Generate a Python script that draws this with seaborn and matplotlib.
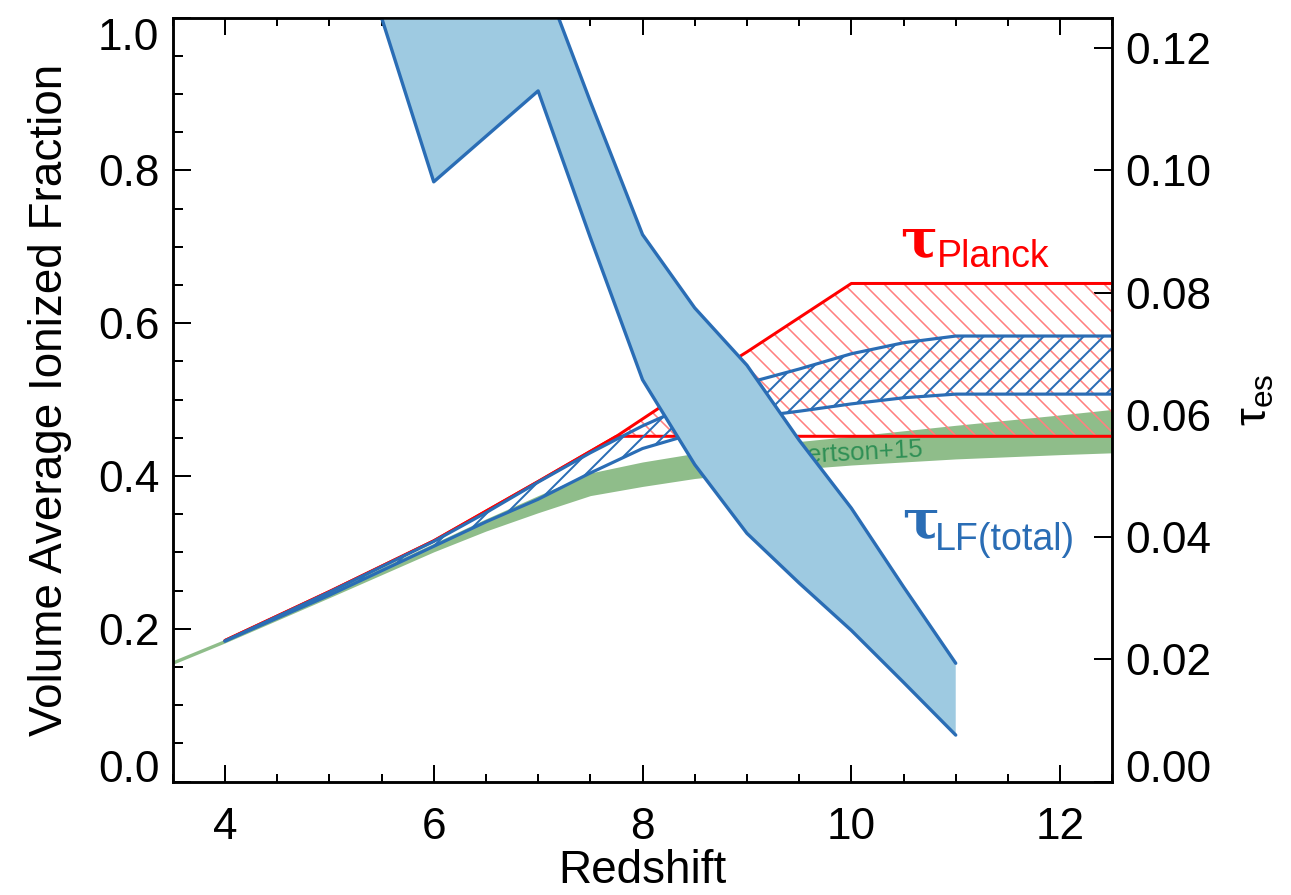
import numpy as np
import pandas as pd
import matplotlib
matplotlib.use("Agg")
import matplotlib.pyplot as plt
import seaborn as sns
from matplotlib.ticker import FixedLocator, MultipleLocator, NullLocator, FormatStrFormatter

# ---------------- data ----------------
# Volume-averaged ionized fraction band (left axis)
xion_z = [5.0, 6.0, 7.0, 7.5, 8.0, 8.5, 9.0, 9.5, 10.0, 10.5, 11.0]
xion_lower = [1.215, 0.785, 0.904, 0.712, 0.526, 0.415, 0.325, 0.260, 0.198, 0.130, 0.061]
xion_upper = [1.800, 1.450, 1.070, 0.890, 0.716, 0.620, 0.545, 0.447, 0.358, 0.255, 0.155]

# tau_LF(total) band (right axis)
tau_lf_z = [4.0, 5.0, 6.0, 6.5, 7.0, 7.5, 8.0, 8.5, 9.0, 9.5, 10.0, 10.5, 11.0, 12.5]
tau_lf_lower = [0.0230, 0.0305, 0.0385, 0.0425, 0.0462, 0.0505, 0.0545, 0.0570, 0.0595,
                0.0606, 0.0618, 0.0628, 0.0634, 0.0634]
tau_lf_upper = [0.0230, 0.0310, 0.0393, 0.0440, 0.0490, 0.0538, 0.0582, 0.0620, 0.0652,
                0.0675, 0.0700, 0.0718, 0.0729, 0.0729]

# tau_Planck band (right axis)
planck_z = [4.0, 5.0, 6.0, 7.0, 7.75, 8.5, 9.0, 10.0, 12.5]
planck_lower = [0.0231, 0.0311, 0.0394, 0.0491, 0.0565, 0.0565, 0.0565, 0.0565, 0.0565]
planck_upper = [0.0231, 0.0311, 0.0394, 0.0491, 0.0565, 0.0650, 0.0703, 0.0815, 0.0815]

# Robertson+15 band (right axis)
rob_z = [3.5, 4.0, 5.0, 6.0, 6.5, 7.0, 7.5, 8.0, 8.5, 9.0, 10.0, 11.0, 12.0, 12.5]
rob_lower = [0.0192, 0.0227, 0.0301, 0.0376, 0.0410, 0.0440, 0.0468, 0.0483, 0.0496,
             0.0505, 0.0518, 0.0528, 0.0535, 0.0538]
rob_upper = [0.0198, 0.0233, 0.0310, 0.0390, 0.0430, 0.0468, 0.0505, 0.0523, 0.0537,
             0.0548, 0.0565, 0.0583, 0.0600, 0.0609]

x_ticks = [4, 6, 8, 10, 12]
y_ticks = [0.0, 0.2, 0.4, 0.6, 0.8, 1.0]
tau_ticks = [0.00, 0.02, 0.04, 0.06, 0.08, 0.10, 0.12]

# ---------------- style ----------------
BLUE_EDGE = "#2a6db5"
BLUE_FILL = "#9ecae1"
RED = "#ff0000"
RED_HATCH = "#ff8080"
GREEN = "#8fbd8a"
GREEN_TEXT = "#2f8f55"

sns.set_theme(style="ticks")
plt.rcParams["font.family"] = ["Liberation Sans", "DejaVu Sans"]
plt.rcParams["mathtext.fontset"] = "custom"
plt.rcParams["mathtext.rm"] = "Liberation Sans"
plt.rcParams["mathtext.it"] = "Liberation Sans"
plt.rcParams["mathtext.default"] = "regular"
for k in ["axes.edgecolor", "xtick.color", "ytick.color", "text.color", "axes.labelcolor"]:
    plt.rcParams[k] = "black"

DPI = 120
fig = plt.figure(figsize=(1291 / DPI, 895 / DPI), dpi=DPI)
fig.patch.set_facecolor("white")
ax = fig.add_axes([0.1338, 0.1266, 0.7278, 0.8538])
ax2 = ax.twinx()
ax.set_zorder(ax2.get_zorder() + 1)
ax.patch.set_visible(False)

# ---- tau bands on right axis ----
ax2.fill_between(rob_z, rob_lower, rob_upper, color=GREEN, lw=0, zorder=1)

with plt.rc_context({"hatch.linewidth": 0.95}):
    ax2.fill_between(planck_z, planck_lower, planck_upper, facecolor="none",
                     edgecolor=RED_HATCH, hatch="\\\\", lw=0, zorder=2)
sns.lineplot(x=planck_z, y=planck_upper, ax=ax2, color=RED, lw=1.8, zorder=3)
sns.lineplot(x=planck_z, y=planck_lower, ax=ax2, color=RED, lw=1.8, zorder=3)

with plt.rc_context({"hatch.linewidth": 1.2}):
    ax2.fill_between(tau_lf_z, tau_lf_lower, tau_lf_upper, facecolor="none",
                     edgecolor=BLUE_EDGE, hatch="//", lw=0, zorder=4)
sns.lineplot(x=tau_lf_z, y=tau_lf_upper, ax=ax2, color=BLUE_EDGE, lw=1.9, zorder=5)
sns.lineplot(x=tau_lf_z, y=tau_lf_lower, ax=ax2, color=BLUE_EDGE, lw=1.9, zorder=5)

ax2.text(0.626, 0.414, "Robertson+15", transform=ax2.transAxes, fontsize=15.5,
         color=GREEN_TEXT, rotation=3, rotation_mode="anchor", ha="left",
         va="baseline", zorder=6)

# ---- ionized fraction band on left axis ----
ax.fill_between(xion_z, xion_lower, xion_upper, color=BLUE_FILL, lw=0, zorder=1)
sns.lineplot(x=xion_z, y=xion_lower, ax=ax, color=BLUE_EDGE, lw=2.0, zorder=2)
sns.lineplot(x=xion_z, y=xion_upper, ax=ax, color=BLUE_EDGE, lw=2.0, zorder=2)

# ---- annotations ----
ax.text(0.7741, 0.6866, "τ", transform=ax.transAxes, fontsize=33, color=RED,
        family=["DejaVu Serif"], fontweight="bold", ha="left", va="baseline")
ax.text(0.8134, 0.6735, "Planck", transform=ax.transAxes, fontsize=22.5,
        color=RED, ha="left", va="baseline")
ax.text(0.7762, 0.3189, "τ", transform=ax.transAxes, fontsize=33, color=BLUE_EDGE,
        family=["DejaVu Serif"], fontweight="bold", ha="left", va="baseline")
ax.text(0.8113, 0.3032, "LF(total)", transform=ax.transAxes, fontsize=22.5,
        color=BLUE_EDGE, ha="left", va="baseline")

# ---- axes ----
ax.set_xlim(3.5, 12.5)
ax.set_ylim(0, 1)
ax2.set_ylim(0, 0.125)

ax.xaxis.set_major_locator(FixedLocator(x_ticks))
ax.xaxis.set_minor_locator(MultipleLocator(0.5))
ax.yaxis.set_major_locator(FixedLocator(y_ticks))
ax.yaxis.set_minor_locator(MultipleLocator(0.05))
ax.yaxis.set_major_formatter(FormatStrFormatter("%.1f"))
ax2.yaxis.set_major_locator(FixedLocator(tau_ticks))
ax2.yaxis.set_minor_locator(NullLocator())
ax2.yaxis.set_major_formatter(FormatStrFormatter("%.2f"))

LS = 26.5
ax.tick_params(axis="x", which="both", direction="in", top=True, bottom=True,
               labelsize=LS, pad=15, width=1.2, color="black")
ax.tick_params(axis="x", which="major", length=10)
ax.tick_params(axis="x", which="minor", length=5)
ax.tick_params(axis="y", which="both", direction="in", left=True, right=False,
               labelsize=LS, pad=8, width=1.2, color="black")
ax.tick_params(axis="y", which="major", length=11)
ax.tick_params(axis="y", which="minor", length=6)
ax2.tick_params(axis="y", which="major", direction="in", right=True, left=False,
                length=11, width=1.2, labelsize=LS, pad=8, color="black")

for a in (ax, ax2):
    for s in a.spines.values():
        s.set_visible(True)
        s.set_linewidth(1.5)
        s.set_color("black")

ax.set_xlabel("Redshift", fontsize=27.5)
ax.xaxis.set_label_coords(0.5, -0.088)
ax.set_ylabel("Volume Average Ionized Fraction", fontsize=27.5)
ax.yaxis.set_label_coords(-0.107, 0.5)
ax2.set_ylabel(r"$\tau_{es}$", fontsize=27)
ax2.yaxis.set_label_coords(1.131, 0.5)

# end labels kept inside the axis range
yt = ax.yaxis.get_major_ticks()
yt[0].label1.set_va("baseline")
yt[-1].label1.set_va("top")
t2 = ax2.yaxis.get_major_ticks()
t2[0].label2.set_va("baseline")

fig.savefig("out.png", dpi=DPI)
